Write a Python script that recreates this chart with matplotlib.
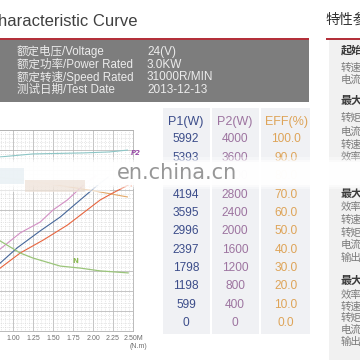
import numpy as np
import matplotlib
matplotlib.use("Agg")
import matplotlib.pyplot as plt
from matplotlib.patches import Rectangle

# ---- data ----
specs_cn = ["额定电压/Voltage", "额定功率/Power Rated", "额定转速/Speed Rated", "测试日期/Test Date"]
specs_val = ["24(V)", "3.0KW", "31000R/MIN", "2013-12-13"]

table_head = ["P1(W)", "P2(W)", "EFF(%)"]
p1_vals = ["5992", "5393", "4794", "4194", "3595", "2996", "2397", "1798", "1198", "599", "0"]
p2_vals = ["4000", "3600", "3200", "2800", "2400", "2000", "1600", "1200", "800", "400", "0"]
eff_vals = ["100.0", "90.0", "80.0", "70.0", "60.0", "50.0", "40.0", "30.0", "20.0", "10.0", "0.0"]

side_items = [("起始点", True), ("转速", False), ("电流", False),
              ("最大转矩点", True), ("转矩", False), ("电流", False), ("转速", False), ("效率", False),
              ("最大效率点", True), ("效率", False), ("转速", False), ("转矩", False), ("电流", False), ("输出", False),
              ("最大功率点", True), ("效率", False), ("转速", False), ("转矩", False), ("电流", False), ("输出", False)]
side_y = [50, 68, 80, 100, 118, 132, 145, 157, 193, 207, 220, 233, 245, 258, 280, 295, 307, 318, 330, 342]

x_ticks = [0, 0.25, 0.5, 0.75, 1.0, 1.25, 1.5, 1.75, 2.0, 2.25, 2.5]
x_labels = ["0", "0.25", "0.50", "0.75", "1.00", "1.25", "1.50", "1.75", "2.00", "2.25", "2.50M"]

# torque (N.m) vs percent of scale
n_x = [0.75, 0.84, 1.09, 1.25, 1.59, 1.84, 2.09, 2.44]
n_y = [48.0, 44.8, 38.8, 36.3, 32.3, 31.3, 29.9, 28.9]
pink_x = [0.70, 0.84, 1.09, 1.34, 1.50, 1.68, 1.88, 2.03]
pink_y = [36.3, 40.8, 48.8, 54.2, 60.2, 65.2, 72.6, 77.1]
blue_x = [0.70, 0.84, 1.05, 1.34, 1.59, 1.84, 2.06, 2.19]
blue_y = [28.0, 33.8, 41.3, 49.8, 56.7, 65.2, 72.6, 76.6]
red_x = [0.70, 0.84, 1.09, 1.38, 1.68, 2.09, 2.25, 2.44]
red_y = [27.0, 31.3, 38.8, 45.3, 52.7, 65.2, 68.7, 72.6]
tan_x = [0.75, 0.90, 1.21, 1.55, 1.96, 2.43]
tan_y = [77.0, 76.1, 74.6, 72.6, 70.1, 66.7]
teal_x = [0.75, 0.84, 1.25, 1.88, 2.21, 2.43]
teal_y = [86.0, 86.6, 88.1, 88.6, 89.1, 90.0]

SANS = ["Liberation Sans", "Noto Sans CJK SC", "DejaVu Sans"]
CJK = ["Noto Sans CJK SC", "DejaVu Sans"]

fig = plt.figure(figsize=(3.6, 3.6), dpi=100)
W = H = 360.0

# chart axes, partly off the left edge like the cropped original
left_px, right_px, top_px, bot_px = -67, 133, 130, 331
ax = fig.add_axes([left_px / W, 1 - bot_px / H, (right_px - left_px) / W, (bot_px - top_px) / H])
ax.set_xlim(0, 2.5)
ax.set_ylim(0, 100)
ax.set_xticks(x_ticks)
ax.set_xticklabels(x_labels, fontsize=5, color="#6e6e6e", family=SANS)
ax.set_xticks(np.arange(0, 2.501, 0.05), minor=True)
ax.set_yticks(np.arange(0, 101, 10))
ax.set_yticks(np.arange(0, 101, 2), minor=True)
ax.set_yticklabels([])
ax.tick_params(which="both", length=0, pad=3)
ax.grid(which="major", color="#bababa", lw=0.6, ls="-")
ax.grid(which="minor", color="#d2d2d2", lw=0.5, ls=":")
ax.set_axisbelow(True)
for s in ax.spines.values():
    s.set_color("#b0b0b0")
    s.set_linewidth(0.6)

ax.plot(teal_x, teal_y, color="#8cc6c6", lw=0.8)
ax.plot(tan_x, tan_y, color="#e3a868", lw=0.8)
ax.plot(pink_x, pink_y, color="#d38fc4", lw=0.8)
ax.plot(blue_x, blue_y, color="#46679a", lw=0.8)
ax.plot(red_x, red_y, color="#e8653f", lw=0.8)
ax.plot(n_x, n_y, color="#9bc57a", lw=0.9)
ax.text(2.47, 88.6, "P2", color="#9a4fa8", fontsize=5, fontweight="bold", style="italic", va="center")
ax.text(2.46, 72.6, "I", color="#e8653f", fontsize=5, fontweight="bold", va="center")
ax.text(1.78, 34.8, "N", color="#8dbb55", fontsize=5, fontweight="bold", va="center", ha="center")

# overlay in pixel coordinates
ov = fig.add_axes([0, 0, 1, 1], zorder=5)
ov.set_xlim(0, W)
ov.set_ylim(H, 0)
ov.axis("off")

ov.text(137, 22, "Characteristic Curve", ha="right", va="center", fontsize=12,
        color="#404040", family=SANS)
ov.add_patch(Rectangle((0, 39), 309, 63, color="#7d7d7d", lw=0))
ov.add_patch(Rectangle((0, 37.5), 309, 2.2, color="#b3303a", lw=0))
for i, (a, b) in enumerate(zip(specs_cn, specs_val)):
    y = 52 + i * 12.6
    ov.text(17, y, a, ha="left", va="center", fontsize=8.3, color="#ececec", family=SANS)
    ov.text(147, y, b, ha="left", va="center", fontsize=8.5, color="#ececec", family=SANS)

# table
col_x = [186, 235, 286]
col_bg = [(163, 47), (212, 47), (261, 49)]
col_col = ["#3c4d8a", "#9d74a0", "#dea458"]
for (x0, w) in col_bg:
    ov.add_patch(Rectangle((x0, 108), w, 226, color="#f0f1f4", lw=0))
for cx, head, colr in zip(col_x, table_head, col_col):
    ov.text(cx, 122, head, ha="center", va="center", fontsize=9, color=colr, family=SANS)
for j, vals in enumerate([p1_vals, p2_vals, eff_vals]):
    for i, v in enumerate(vals):
        ov.text(col_x[j], 139.5 + i * 18.35, v, ha="center", va="center", fontsize=8.6,
                color=col_col[j], family=SANS)

# right side panel
ov.text(325, 20, "特性参数", ha="left", va="center", fontsize=10, color="#333333", family=CJK)
ov.add_patch(Rectangle((326, 38), 40, 2.2, color="#b3303a", lw=0))
ov.add_patch(Rectangle((329, 40.2), 40, 330, color="#f1f1f1", lw=0))
for (t, bold), y in zip(side_items, side_y):
    ov.text(341, y, t, ha="left", va="center", fontsize=8 if bold else 7.5,
            fontweight="bold" if bold else "normal",
            color="#3a3a3a" if bold else "#7a7a7a", family=CJK)

# blurred band over everything, watermark on top
for y0, h, a in [(157, 32, 0.4), (159.5, 27, 0.55), (162, 22.5, 0.92)]:
    ov.add_patch(Rectangle((0, y0), W, h, color="white", alpha=a, lw=0, zorder=4))
# the band reaches a little lower over the chart
ov.add_patch(Rectangle((0, 184), 110, 8, color="white", alpha=0.6, lw=0, zorder=4))
ov.add_patch(Rectangle((0, 168), 24, 16, color="#dae7ee", alpha=0.5, lw=0, zorder=4.1))
ov.add_patch(Rectangle((25, 180), 60, 12, color="#e4cfbf", alpha=0.45, lw=0, zorder=4.1))
ov.text(117, 173, "en.china.cn", ha="left", va="center", fontsize=15, color="#858585",
        alpha=0.85, family=["DejaVu Sans"], zorder=6)

ov.text(139, 347, "(N.m)", ha="center", va="center", fontsize=5, color="#6e6e6e", family=SANS)

fig.savefig("out.png", dpi=100)
